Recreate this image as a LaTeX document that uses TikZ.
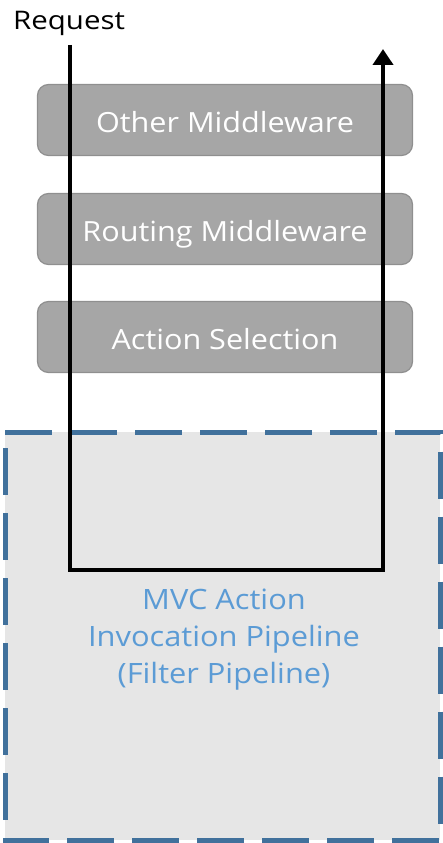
\documentclass[tikz,border=0pt]{standalone}
\usepackage{fontspec}
\setmainfont{Open Sans}
\newfontfamily\boxfont[FakeStretch=1.1]{Open Sans}
\newfontfamily\reqfont[FakeStretch=1.15]{Open Sans}
\usetikzlibrary{arrows.meta}
\definecolor{boxfill}{HTML}{A6A6A6}
\definecolor{boxline}{HTML}{8F8F8F}
\definecolor{pipefill}{HTML}{E6E6E6}
\definecolor{pipeline}{HTML}{41719C}
\definecolor{pipetext}{HTML}{5B9BD5}
\tikzset{
  mwbox/.style={draw=boxline, line width=1.2pt, fill=boxfill, rounded corners=11pt,
    minimum width=375pt, minimum height=71pt, inner sep=0pt,
    text height=24pt, text depth=0pt,
    text=white, font=\boxfont\fontsize{27.8}{32}\selectfont},
  flow/.style={line width=4.5pt, black, line join=miter},
}
\begin{document}
\begin{tikzpicture}[x=1pt,y=-1pt]
\useasboundingbox (0,0) rectangle (442,843);
% pipeline container
\node[fill=pipefill, minimum width=435pt, minimum height=408pt, inner sep=0pt, anchor=north west] (pipe) at (5,432) {};
\draw[pipeline, line width=5pt, dash pattern=on 47pt off 18pt] (pipe.north west) -- (pipe.north east) -- (pipe.south east) -- (pipe.south west) -- cycle;
\node[text=pipetext, font=\boxfont\fontsize{28}{37}\selectfont, align=center, anchor=north, inner sep=0pt] (pipetxt) at (224,589) {MVC Action\\Invocation Pipeline\\(Filter Pipeline)};
% middleware boxes
\node[mwbox] (other) at (225,120) {Other Middleware};
\node[mwbox] (routing) at (225,229) {Routing Middleware};
\node[mwbox] (select) at (225,337) {Action Selection};
% request label
\node[anchor=base west, inner sep=0pt, font=\reqfont\fontsize{25.6}{30}\selectfont] (req) at (13,30) {Request};
% flow
\coordinate (reqtop) at (70,45);
\coordinate (reqbot) at (70,570);
\coordinate (outbot) at (383,570);
\coordinate (outtop) at (383,49);
\draw[flow, -{Triangle[width=20pt,length=16pt]}] (reqtop) -- (reqbot) -- (outbot) -- (outtop);
\end{tikzpicture}
\end{document}
